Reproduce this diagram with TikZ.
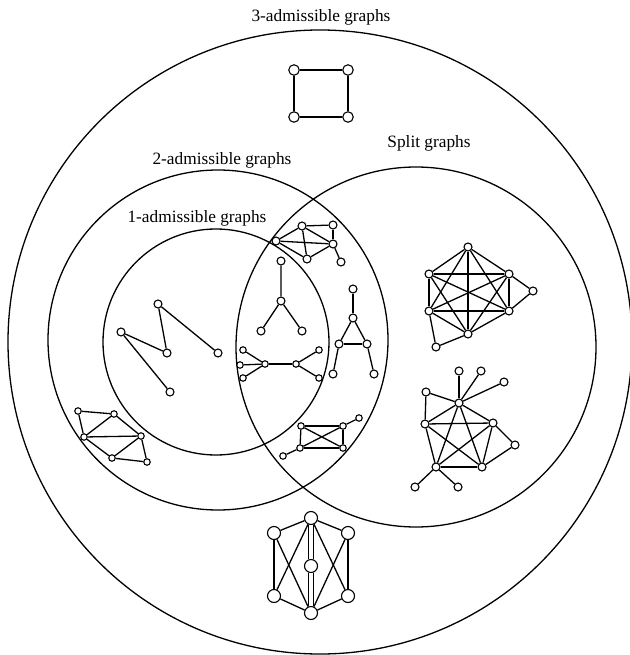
\documentclass[tikz,border=0pt]{standalone}
\usepackage{fontspec}
\setmainfont{Liberation Serif}
\usetikzlibrary{positioning}
\tikzset{
    vert/.style={draw, circle, fill=white, minimum size=8pt, inner sep=0pt, line width=1.1pt},
    vertchico/.style={vert, minimum size=6.5pt},
    vertgrande/.style={vert, minimum size=10.5pt},
    vertenorme/.style={vert, minimum size=13pt},
    arista/.style={line width=1.3pt},
    clase/.style={line width=1.3pt},
    rotulo/.style={font=\fontsize{17.3}{20}\selectfont},
}

\begin{document}
\begin{tikzpicture}[x=1pt, y=-1pt]
\useasboundingbox (0,0) rectangle (629,655);
% Classes
\draw[clase] (320,342) circle[radius=312pt];
\draw[clase] (218,340) circle[radius=170pt];
\draw[clase] (216,342) circle[radius=113pt];
\draw[clase] (416,347) circle[radius=180pt];
\node[rotulo] (t3) at (321,17) {3-admissible graphs};
\node[rotulo] (t2) at (222,160) {2-admissible graphs};
\node[rotulo] (t1) at (197,218) {1-admissible graphs};
\node[rotulo] (ts) at (429,143) {Split graphs};
% Graph: square
\node[vertgrande] (s1) at (294,70) {};
\node[vertgrande] (s2) at (348,70) {};
\node[vertgrande] (s3) at (294,117) {};
\node[vertgrande] (s4) at (348,117) {};
\draw[arista] (s1) -- (s2) -- (s4) -- (s3) -- (s1);
% Graph: top of intersection
\node[vert] (a1) at (302,226) {};
\node[vert] (a2) at (333,225) {};
\node[vert] (a3) at (276,241) {};
\node[vert] (a4) at (333,244) {};
\node[vert] (a5) at (307,259) {};
\node[vert] (a6) at (341,262) {};
\foreach \u/\v in {1/2, 1/3, 1/4, 1/5, 3/4, 3/5, 2/4, 4/5, 4/6}
    \draw[arista] (a\u) -- (a\v);
% Graph: tree
\node[vert] (b1) at (281,261) {};
\node[vert] (b2) at (281,301) {};
\node[vert] (b3) at (261,331) {};
\node[vert] (b4) at (302,331) {};
\draw[arista] (b1) -- (b2) -- (b3);
\draw[arista] (b2) -- (b4);
% Graph: double star
\node[vertchico] (d1) at (243,350) {};
\node[vertchico] (d2) at (240,365) {};
\node[vertchico] (d3) at (243,378) {};
\node[vertchico] (d4) at (265,364) {};
\node[vertchico] (d5) at (296,364) {};
\node[vertchico] (d6) at (319,350) {};
\node[vertchico] (d7) at (319,378) {};
\foreach \u/\v in {1/4, 2/4, 3/4, 4/5, 5/6, 5/7}
    \draw[arista] (d\u) -- (d\v);
% Graph: triangle with legs
\node[vert] (e1) at (353,289) {};
\node[vert] (e2) at (353,318) {};
\node[vert] (e3) at (339,344) {};
\node[vert] (e4) at (367,344) {};
\node[vert] (e5) at (333,374) {};
\node[vert] (e6) at (374,374) {};
\foreach \u/\v in {1/2, 2/3, 2/4, 3/4, 3/5, 4/6}
    \draw[arista] (e\u) -- (e\v);
% Graph: rectangle with diagonals
\node[vertchico] (f1) at (301,426) {};
\node[vertchico] (f2) at (343,426) {};
\node[vertchico] (f3) at (300,448) {};
\node[vertchico] (f4) at (343,448) {};
\node[vertchico] (f5) at (359,418) {};
\node[vertchico] (f6) at (283,456) {};
\foreach \u/\v in {1/2, 2/4, 4/3, 3/1, 1/4, 2/3, 2/5, 3/6}
    \draw[arista] (f\u) -- (f\v);
% Graph: 1-admissible
\node[vert] (m1) at (158,304) {};
\node[vert] (m2) at (121,332) {};
\node[vert] (m3) at (167,353) {};
\node[vert] (m4) at (218,353) {};
\node[vert] (m5) at (170,392) {};
\foreach \u/\v in {1/3, 1/4, 2/3, 2/5}
    \draw[arista] (m\u) -- (m\v);
% Graph: 2-admissible
\node[vertchico] (h1) at (78,411) {};
\node[vertchico] (h2) at (114,414) {};
\node[vertchico] (h3) at (84,437) {};
\node[vertchico] (h4) at (141,436) {};
\node[vertchico] (h5) at (112,458) {};
\node[vertchico] (h6) at (147,462) {};
\foreach \u/\v in {1/2, 1/3, 2/3, 2/4, 3/4, 3/5, 4/5, 4/6, 5/6}
    \draw[arista] (h\u) -- (h\v);
% Graph: split, K6
\node[vert] (k1) at (468,247) {};
\node[vert] (k2) at (429,274) {};
\node[vert] (k3) at (509,274) {};
\node[vert] (k4) at (429,311) {};
\node[vert] (k5) at (509,311) {};
\node[vert] (k6) at (468,334) {};
\node[vert] (k7) at (533,291) {};
\node[vert] (k8) at (436,347) {};
\foreach \i in {1,...,5} {
    \pgfmathtruncatemacro\ni{\i+1}
    \foreach \j in {\ni,...,6}
        \draw[arista] (k\i) -- (k\j);
}
\foreach \u/\v in {3/7, 5/7, 4/8, 6/8}
    \draw[arista] (k\u) -- (k\v);
% Graph: split, K5
\node[vert] (p1) at (459,371) {};
\node[vert] (p2) at (481,371) {};
\node[vert] (p3) at (504,382) {};
\node[vert] (p4) at (426,392) {};
\node[vert] (p5) at (459,403) {};
\node[vert] (p6) at (425,424) {};
\node[vert] (p7) at (493,423) {};
\node[vert] (p8) at (515,445) {};
\node[vert] (p9) at (436,467) {};
\node[vert] (p10) at (482,467) {};
\node[vert] (p11) at (415,487) {};
\node[vert] (p12) at (458,487) {};
\foreach \u/\v in {5/6, 5/7, 5/9, 5/10, 6/7, 6/9, 6/10, 7/9, 7/10, 9/10,
                   1/5, 2/5, 3/5, 4/5, 4/6, 7/8, 8/10, 9/11, 9/12}
    \draw[arista] (p\u) -- (p\v);
% Graph: 3-admissible
\node[vertenorme] (g1) at (311,518) {};
\node[vertenorme] (g2) at (274,533) {};
\node[vertenorme] (g3) at (348,533) {};
\node[vertenorme] (g4) at (311,566) {};
\node[vertenorme] (g5) at (274,596) {};
\node[vertenorme] (g6) at (348,596) {};
\node[vertenorme] (g7) at (311,613) {};
\foreach \u/\v in {1/2, 1/3, 2/5, 3/6, 5/7, 6/7, 1/5, 2/7, 1/6, 3/7}
    \draw[arista] (g\u) -- (g\v);
\draw[arista, double distance=4pt] (g1) -- (g4);
\draw[arista, double distance=4pt] (g4) -- (g7);
\end{tikzpicture}
\end{document}
